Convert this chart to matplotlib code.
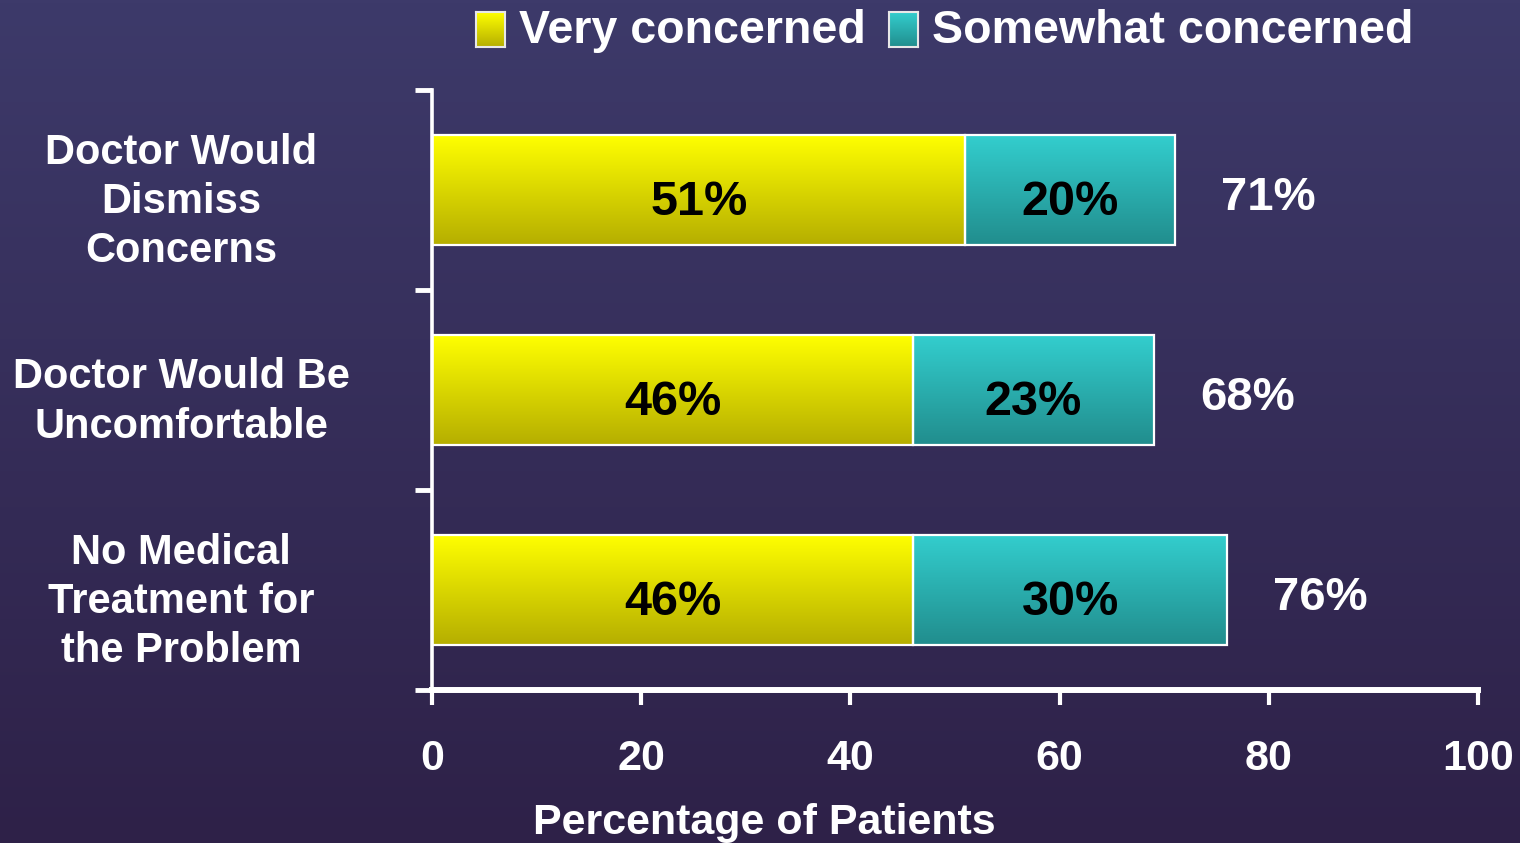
import numpy as np
import matplotlib
matplotlib.use("Agg")
import matplotlib.pyplot as plt
from matplotlib.colors import LinearSegmentedColormap

# survey data
categories = ["Doctor Would\nDismiss\nConcerns",
              "Doctor Would Be\nUncomfortable",
              "No Medical\nTreatment for\nthe Problem"]
very = [51, 46, 46]
somewhat = [20, 23, 30]
totals = [71, 68, 76]
series_names = ["Very concerned", "Somewhat concerned"]
xticks = [0, 20, 40, 60, 80, 100]

FONT = ["Liberation Sans", "DejaVu Sans"]

yellow = LinearSegmentedColormap.from_list("yel", ["#ffff00", "#b5ae00"])
teal = LinearSegmentedColormap.from_list("teal", ["#33cece", "#218d8d"])
bg = LinearSegmentedColormap.from_list("bg", ["#3d3a6a", "#2e2148"])
grad = np.linspace(0, 1, 256).reshape(-1, 1)


def gradient_bars(ax, bars, cmap):
    for p in bars:
        x0, y0 = p.get_x(), p.get_y()
        w, h = p.get_width(), p.get_height()
        im = ax.imshow(grad, cmap=cmap, extent=[x0, x0 + w, y0 + h, y0],
                       aspect="auto", zorder=2, interpolation="bilinear")
        im.set_clip_path(p)


fig = plt.figure(figsize=(15.2, 8.43), dpi=100)

# background
bg_ax = fig.add_axes([0, 0, 1, 1], zorder=-10)
bg_ax.imshow(grad, cmap=bg, aspect="auto", extent=[0, 1, 0, 1])
bg_ax.set_axis_off()

ax = fig.add_axes([432 / 1520, 1 - 690 / 843, 1046 / 1520, 600 / 843])
ax.patch.set_visible(False)

y = np.arange(len(categories))
b1 = ax.barh(y, very, height=0.55, color="none", edgecolor="white", lw=1.6, zorder=3)
b2 = ax.barh(y, somewhat, left=very, height=0.55, color="none",
             edgecolor="white", lw=1.6, zorder=3)
gradient_bars(ax, b1, yellow)
gradient_bars(ax, b2, teal)

for i in range(len(categories)):
    ax.text(very[i] / 2, i + 0.06, f"{very[i]}%", ha="center", va="center",
            fontsize=35, fontweight="bold", family=FONT, color="black", zorder=4)
    ax.text(very[i] + somewhat[i] / 2, i + 0.06, f"{somewhat[i]}%", ha="center",
            va="center", fontsize=35, fontweight="bold", family=FONT,
            color="black", zorder=4)
    ax.text(very[i] + somewhat[i] + 4.4, i + 0.04, f"{totals[i]}%", ha="left",
            va="center", fontsize=34, fontweight="bold", family=FONT,
            color="white", zorder=4)
    ax.text(-24, i + 0.06, categories[i], ha="center", va="center",
            multialignment="center", fontsize=30, fontweight="bold",
            family=FONT, color="white", linespacing=1.3, clip_on=False)

ax.set_xlim(0, 100)
ax.set_ylim(2.5, -0.5)
ax.set_xticks(xticks)
ax.set_xticklabels([str(t) for t in xticks], fontsize=31, fontweight="bold",
                   family=FONT, color="white")
ax.set_yticks([-0.5, 0.5, 1.5, 2.5])
ax.set_yticklabels([])
ax.tick_params(axis="x", colors="white", length=11, width=3, pad=24)
ax.tick_params(axis="y", colors="white", length=12, width=3.5)
for s in ["top", "right"]:
    ax.spines[s].set_visible(False)
ax.spines["left"].set_color("white")
ax.spines["left"].set_linewidth(2.6)
ax.spines["bottom"].set_color("white")
ax.spines["bottom"].set_linewidth(4.3)
for s in ["left", "bottom"]:
    ax.spines[s].set_capstyle("projecting")

ax.set_xlabel("Percentage of Patients", fontsize=31, fontweight="bold",
              family=FONT, color="white", va="center")
ax.xaxis.set_label_coords(0.318, -0.222)

# legend drawn by hand with gradient swatches
for cmap, name, px, tx in [(yellow, series_names[0], 476, 519),
                           (teal, series_names[1], 889, 932)]:
    sw = fig.add_axes([px / 1520, 1 - 47 / 843, 29 / 1520, 35 / 843])
    sw.imshow(grad, cmap=cmap, aspect="auto", interpolation="bilinear")
    sw.set_xticks([])
    sw.set_yticks([])
    for sp in sw.spines.values():
        sp.set_color("#e8e8e8")
        sp.set_linewidth(1.5)
    fig.text(tx / 1520, 1 - 31 / 843, name, ha="left", va="center",
             fontsize=33.5, fontweight="bold", family=FONT, color="white")

fig.savefig("out.png", dpi=100)
